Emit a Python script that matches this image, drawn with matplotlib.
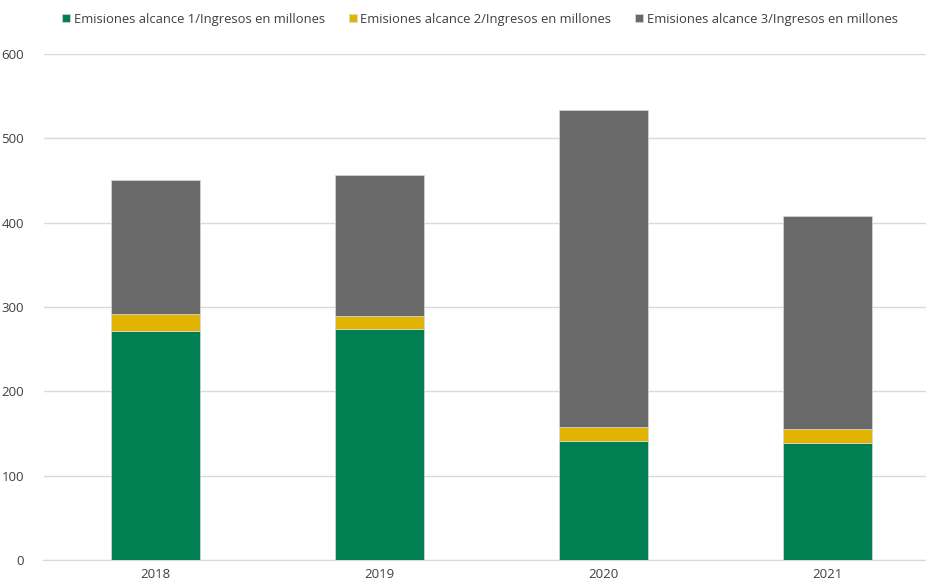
import matplotlib
matplotlib.use("Agg")
import matplotlib.pyplot as plt
import numpy as np

plt.rcParams['font.family'] = ['Open Sans', 'DejaVu Sans']

years = ["2018", "2019", "2020", "2021"]
alcance1 = [271.7, 273.7, 141.0, 139.0]
alcance2 = [19.8, 15.8, 16.9, 16.2]
alcance3 = [159.1, 166.7, 376.1, 252.4]
labels = ["Emisiones alcance 1/Ingresos en millones",
          "Emisiones alcance 2/Ingresos en millones",
          "Emisiones alcance 3/Ingresos en millones"]
colors = ["#008052", "#E0B400", "#696969"]
yticks = [0, 100, 200, 300, 400, 500, 600]

fig = plt.figure(figsize=(9.26, 5.86), dpi=100)
ax = fig.add_axes([43.5/926, 1-560/586, (926-43.5)/926, (560-54)/586])

x = np.arange(len(years))
w = 0.4
b1 = np.array(alcance1)
b2 = b1 + np.array(alcance2)
ax.bar(x, alcance1, w, color=colors[0], label=labels[0], edgecolor="#d9d9d9", linewidth=0.5, zorder=3)
ax.bar(x, alcance2, w, bottom=b1, color=colors[1], label=labels[1], edgecolor="#d9d9d9", linewidth=0.5, zorder=3)
ax.bar(x, alcance3, w, bottom=b2, color=colors[2], label=labels[2], edgecolor="#d9d9d9", linewidth=0.5, zorder=3)

ax.set_ylim(0, 600)
ax.set_xlim(-0.5, 3.44)
ax.set_yticks(yticks)
ax.set_xticks(x)
ax.set_xticklabels(years)
ax.yaxis.grid(True, color="#d9d9d9", linewidth=1, zorder=0)
ax.set_axisbelow(True)
for s in ["top", "right", "left"]:
    ax.spines[s].set_visible(False)
ax.spines["bottom"].set_color("#d9d9d9")
ax.tick_params(axis="both", length=0, labelsize=9.5, colors="#404040")
ax.tick_params(axis="y", pad=14)
ax.tick_params(axis="x", pad=6)

leg = fig.legend(loc="center", bbox_to_anchor=(480/926, 1-19/586), ncol=3, frameon=False,
                 fontsize=9.4, handlelength=0.6, handleheight=0.6, handletextpad=0.3,
                 columnspacing=1.8, labelcolor="#404040")

fig.savefig("out.png", dpi=100)
